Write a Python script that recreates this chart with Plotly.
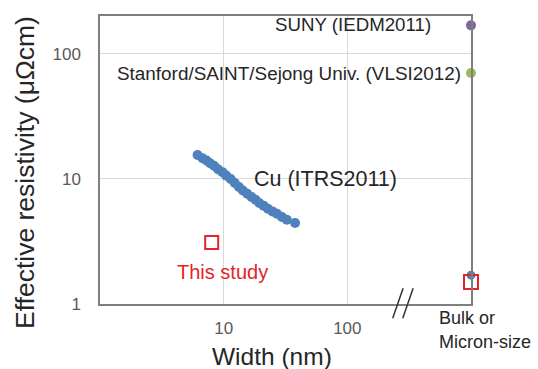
import plotly.graph_objects as go

# Cu (ITRS2011) effective resistivity vs width
cu_width = [6.15, 6.75, 7.27, 7.77, 8.36, 9.0, 9.77, 10.5, 11.4, 12.3, 13.3, 14.3,
            15.5, 16.8, 18.1, 19.4, 21.0, 22.8, 24.8, 27.0, 29.6, 32.4, 37.8]
cu_rho = [15.5, 14.6, 14.0, 13.3, 12.7, 11.9, 11.3, 10.6, 9.95, 9.24, 8.59, 8.07,
          7.59, 7.15, 6.80, 6.40, 6.10, 5.77, 5.49, 5.26, 4.95, 4.71, 4.44]

# This study
study_width = [8.0]
study_rho = [3.1]

# Bulk / micron-size column (placed at the right edge, x = 1000)
bulk_x = 1000
suny_rho = [168]
stanford_rho = [70]
cu_bulk_rho = [1.7]
study_bulk_rho = [1.5]

x_tickvals = [10, 100]
x_ticktext = ["10", "100"]
y_tickvals = [1, 10, 100]
y_ticktext = ["1", "10", "100"]

FONT = "Liberation Sans, Arial, sans-serif"
BLUE = "#4f81bd"
RED = "#e3242b"

fig = go.Figure()
fig.add_trace(go.Scatter(x=cu_width, y=cu_rho, mode="markers",
                         marker=dict(size=10, color=BLUE), cliponaxis=False))
fig.add_trace(go.Scatter(x=study_width, y=study_rho, mode="markers",
                         marker=dict(size=13, symbol="square-open", color=RED,
                                     line=dict(width=2, color=RED)), cliponaxis=False))
fig.add_trace(go.Scatter(x=[bulk_x], y=suny_rho, mode="markers",
                         marker=dict(size=10, color="#8064a2"), cliponaxis=False))
fig.add_trace(go.Scatter(x=[bulk_x], y=stanford_rho, mode="markers",
                         marker=dict(size=10, color="#9bbb59"), cliponaxis=False))
fig.add_trace(go.Scatter(x=[bulk_x], y=cu_bulk_rho, mode="markers",
                         marker=dict(size=9, color=BLUE), cliponaxis=False))
fig.add_trace(go.Scatter(x=[bulk_x], y=study_bulk_rho, mode="markers",
                         marker=dict(size=14, symbol="square-open", color=RED,
                                     line=dict(width=2, color=RED)), cliponaxis=False))

axis_common = dict(type="log", showgrid=True, gridcolor="#d9d9d9", gridwidth=1,
                   showline=True, mirror=True, linecolor="#7f7f7f", linewidth=1.5,
                   ticks="", zeroline=False,
                   tickfont=dict(family=FONT, size=17, color="#595959"))

fig.update_layout(
    width=538, height=369,
    margin=dict(l=100, r=67, t=16, b=65),
    plot_bgcolor="white", paper_bgcolor="white",
    showlegend=False,
    font=dict(family=FONT),
    xaxis=dict(range=[0, 3], tickvals=x_tickvals, ticktext=x_ticktext,
               ticklabelstandoff=8, **axis_common),
    yaxis=dict(range=[0, 2.3], tickvals=y_tickvals, ticktext=y_ticktext,
               ticklabelstandoff=14, **axis_common),
)

def ann(text, x, y, size, color="#262626", xanchor="center", yanchor="middle", angle=0):
    fig.add_annotation(text=text, x=x, y=y, xref="paper", yref="paper",
                       xanchor=xanchor, yanchor=yanchor, showarrow=False,
                       textangle=angle, font=dict(family=FONT, size=size, color=color))

ann("SUNY (IEDM2011)", 0.8976, 0.969, 18.7, xanchor="right")
ann("Stanford/SAINT/Sejong Univ. (VLSI2012)", 0.9785, 0.802, 18.9, xanchor="right")
ann("Cu (ITRS2011)", 0.4097, 0.434, 21.5, xanchor="left")
ann("This study", 0.33, 0.112, 20, color=RED)
ann("Bulk or", 0.908, -0.049, 18, xanchor="left")
ann("Micron-size", 0.908, -0.132, 18, xanchor="left")
ann("Width (nm)", 0.4636, -0.184, 24.5)
ann("Effective resistivity (μΩcm)", -0.202, 0.455, 26.5, angle=-90)

# axis break marks "//"
for dx in (0.0, 0.027):
    fig.add_shape(type="line", xref="paper", yref="paper",
                  x0=0.817 + dx, y0=0.0545, x1=0.789 + dx, y1=-0.0497,
                  line=dict(color="#333333", width=1.5))

fig.write_html("out.html")
